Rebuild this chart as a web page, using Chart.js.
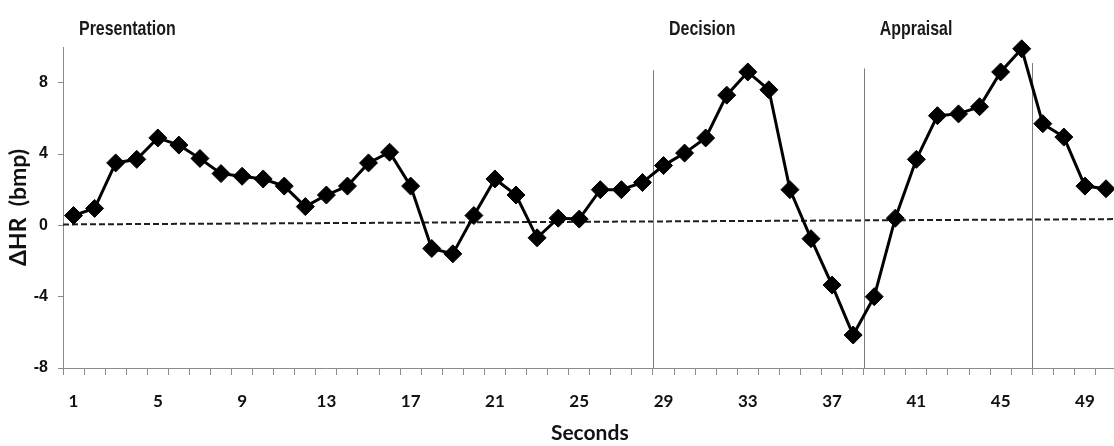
<!DOCTYPE html>
<html>
<head>
<meta charset="utf-8">
<script src="https://cdn.jsdelivr.net/npm/chart.js@4.4.1/dist/chart.umd.min.js"></script>
<style>
  html, body { margin: 0; padding: 0; background: #fff; overflow: hidden; width: 1114px; height: 446px; }
  #wrap { position: relative; width: 1122px; height: 446px; }
</style>
</head>
<body>
<div id="wrap"><canvas id="hr"></canvas></div>
<script>
// Time axis (seconds)
const seconds = ['1','2','3','4','5','6','7','8','9','10','11','12','13','14','15','16','17','18','19','20',
                 '21','22','23','24','25','26','27','28','29','30','31','32','33','34','35','36','37','38','39','40',
                 '41','42','43','44','45','46','47','48','49','50'];
const secondTickLabels = ['1','5','9','13','17','21','25','29','33','37','41','45','49'];

// Heart-rate change per second (bpm)
const hrChange = [0.55, 0.95, 3.5, 3.7, 4.9, 4.5, 3.75, 2.9, 2.75, 2.6,
                  2.2, 1.05, 1.7, 2.2, 3.5, 4.1, 2.2, -1.3, -1.6, 0.55,
                  2.6, 1.7, -0.7, 0.4, 0.35, 2.0, 2.0, 2.4, 3.35, 4.05,
                  4.9, 7.3, 8.6, 7.6, 2.0, -0.75, -3.35, -6.15, -4.0, 0.4,
                  3.7, 6.15, 6.25, 6.65, 8.6, 9.9, 5.7, 4.95, 2.2, 2.05];

// Value axis
const yMin = -8;
const yMax = 10;
const yTicks = [-8, -4, 0, 4, 8];

// Reference (baseline) line, value at start and end of the record
const baselineStart = 0.05;
const baselineEnd = 0.35;

// Task phases: names, second at which each label's phase begins
const phaseNames = ['Presentation', 'Decision', 'Appraisal'];
const phaseLabelStarts = [0, 28, 38];
// Phase separators (after this many seconds) and their heights
const phaseDividers = [28, 38, 46];
const phaseDividerTops = [8.7, 8.8, 9.1];

const phasePlugin = {
  id: 'phases',
  beforeDatasetsDraw(chart) {
    const { ctx, chartArea, scales: { x, y } } = chart;
    ctx.save();

    // dashed baseline
    ctx.strokeStyle = '#1e1e1e';
    ctx.lineWidth = 2;
    ctx.setLineDash([6, 3]);
    ctx.beginPath();
    ctx.moveTo(chartArea.left, y.getPixelForValue(baselineStart));
    ctx.lineTo(chartArea.right, y.getPixelForValue(baselineEnd));
    ctx.stroke();
    ctx.setLineDash([]);

    // phase separators
    ctx.strokeStyle = '#7a7a7a';
    ctx.lineWidth = 1;
    phaseDividers.forEach((b, i) => {
      const px = Math.round(x.getPixelForValue(b - 0.5)) + 0.5;
      ctx.beginPath();
      ctx.moveTo(px, y.getPixelForValue(phaseDividerTops[i]));
      ctx.lineTo(px, y.getPixelForValue(yMin));
      ctx.stroke();
    });
    ctx.restore();

    // phase names, set in a narrow (horizontally condensed) face
    const squeeze = 0.76;
    phaseNames.forEach((name, i) => {
      const px = x.getPixelForValue(phaseLabelStarts[i] - 0.5) + 16;
      ctx.save();
      ctx.translate(px, 35);
      ctx.scale(squeeze, 1);
      ctx.fillStyle = '#1a1a1a';
      ctx.font = "bold 21px 'Liberation Sans', Arial, sans-serif";
      ctx.textAlign = 'left';
      ctx.textBaseline = 'alphabetic';
      ctx.fillText(name, 0, 0);
      ctx.restore();
    });
  }
};

new Chart(document.getElementById('hr'), {
  type: 'line',
  data: {
    labels: seconds,
    datasets: [{
      data: hrChange,
      borderColor: '#000',
      borderWidth: 3,
      tension: 0,
      pointStyle: 'rectRot',
      pointRadius: 9,
      pointBackgroundColor: '#000',
      pointBorderColor: '#000',
      pointBorderWidth: 1,
      clip: false
    }]
  },
  options: {
    responsive: true,
    maintainAspectRatio: false,
    animation: false,
    devicePixelRatio: 1,
    layout: { autoPadding: false, padding: { top: 47, right: 0, bottom: 0, left: 0 } },
    plugins: { legend: { display: false }, tooltip: { enabled: false } },
    scales: {
      x: {
        type: 'category',
        offset: true,
        grid: { offset: true, drawOnChartArea: false, drawTicks: true, tickLength: 7, color: '#8a8a8a', lineWidth: 1 },
        border: { display: true, color: '#8a8a8a', width: 1 },
        ticks: {
          autoSkip: false, maxRotation: 0, minRotation: 0, padding: 16, color: '#111',
          font: { family: 'Lato', weight: 'bold', size: 17 },
          callback: function (v) {
            const l = this.getLabelForValue(v);
            return secondTickLabels.includes(l) ? l : '';
          }
        },
        title: {
          display: true, text: 'Seconds', color: '#111',
          font: { family: 'Lato', weight: 'bold', size: 21 },
          padding: { top: 0, bottom: 0 }
        },
        afterFit: s => { s.height = 78; }
      },
      y: {
        min: yMin,
        max: yMax,
        afterBuildTicks: s => { s.ticks = yTicks.map(v => ({ value: v })); },
        grid: { drawOnChartArea: false, drawTicks: true, tickLength: 5, color: '#8a8a8a' },
        border: { display: true, color: '#8a8a8a', width: 1 },
        ticks: {
          padding: 10, color: '#111',
          font: { family: "'Liberation Sans', Arial, sans-serif", weight: 'bold', size: 16 }
        },
        title: {
          display: true, text: 'ΔHR  (bmp)', color: '#111',
          font: { family: 'Lato', weight: 'bold', size: 23 },
          padding: { top: 5, bottom: 0 }
        },
        afterFit: s => { s.width = 63; }
      }
    }
  },
  plugins: [phasePlugin]
});
</script>
</body>
</html>
